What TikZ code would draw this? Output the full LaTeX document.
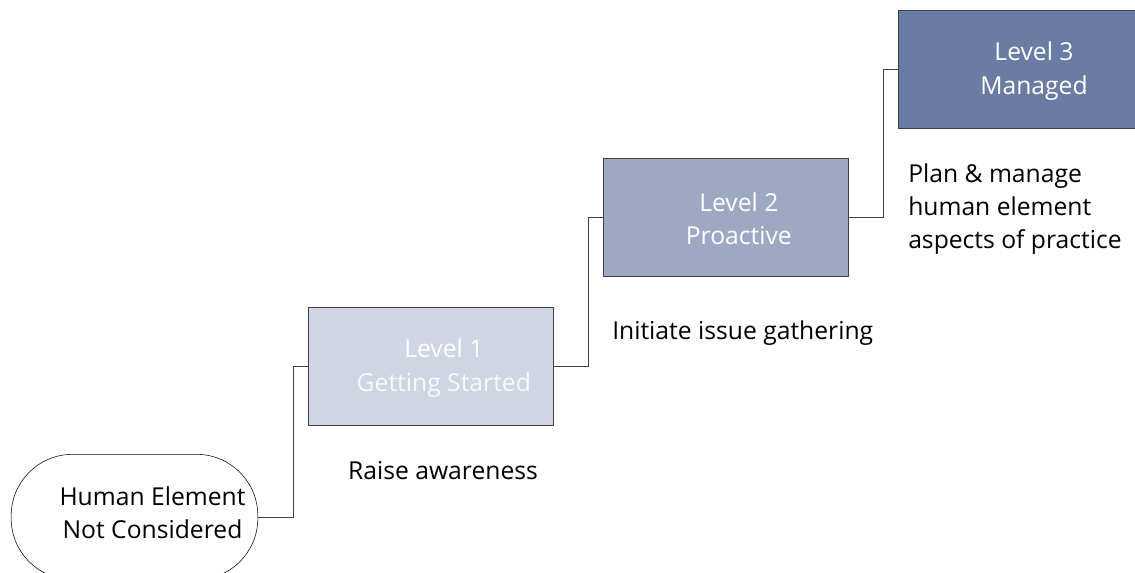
\documentclass[tikz,border=0pt]{standalone}
\usepackage{fontspec}
\setmainfont{Open Sans}
\usepackage{tikz}
\usepackage{xcolor}
\usetikzlibrary{positioning}
\definecolor{lvlone}{HTML}{CFD5E2}
\definecolor{lvltwo}{HTML}{9DA8C3}
\definecolor{lvlthree}{HTML}{6A7CA3}
\definecolor{edgegray}{HTML}{404040}
\tikzset{%
  lvlbox/.style={draw=edgegray, thin, minimum width=183.75pt, minimum height=88.5pt, inner sep=0pt},
  lvltext/.style={inner sep=0pt, align=center, text=white, xshift=10pt, yshift=-1.5pt, font=\fontsize{18.5}{25}\selectfont},
  startbox/.style={draw=black, thin, rounded corners=46pt, minimum width=185pt, minimum height=94pt, inner sep=0pt},
  stairline/.style={draw=edgegray, thin},
  note/.style={inner sep=0pt, font=\fontsize{18.5}{25}\selectfont}
}

\begin{document}
\begin{tikzpicture}[x=.75pt,y=-.75pt]
\useasboundingbox (0,0) rectangle (1135,572);
\clip (0,0) rectangle (1135,572);
\node[startbox, label={[note, align=center, xshift=13.5pt, yshift=3pt]center:{Human Element\\Not Considered}}] (human) at (134.5,517) {};
\node[lvlbox, fill=lvlone, label={[lvltext]center:{Level 1\\\textcolor{white!85!lvlone}{Getting Started}}}] (lvl1) at (430.5,366) {};
\node[lvlbox, fill=lvltwo, label={[lvltext]center:{Level 2\\Proactive}}] (lvl2) at (725.5,217) {};
\node[lvlbox, fill=lvlthree, minimum width=192pt, label={[lvltext, xshift=-4pt]center:{Level 3\\Managed}}] (lvl3) at (1026,69) {};
\draw[stairline] (human.east) -- ++(35,0) |- (lvl1.west);
\draw[stairline] (lvl1.east) -- ++(35,0) |- (lvl2.west);
\draw[stairline] (lvl2.east) -- ++(35,0) |- (lvl3.west);
\node[note] (aware) at (443,471) {Raise awareness};
\node[note, anchor=west] (gather) at (612,333) {Initiate issue gathering};
\node[note, anchor=west, align=left] (manage) at (908,209) {Plan \& manage\\human element\\aspects of practice};
\end{tikzpicture}
\end{document}
